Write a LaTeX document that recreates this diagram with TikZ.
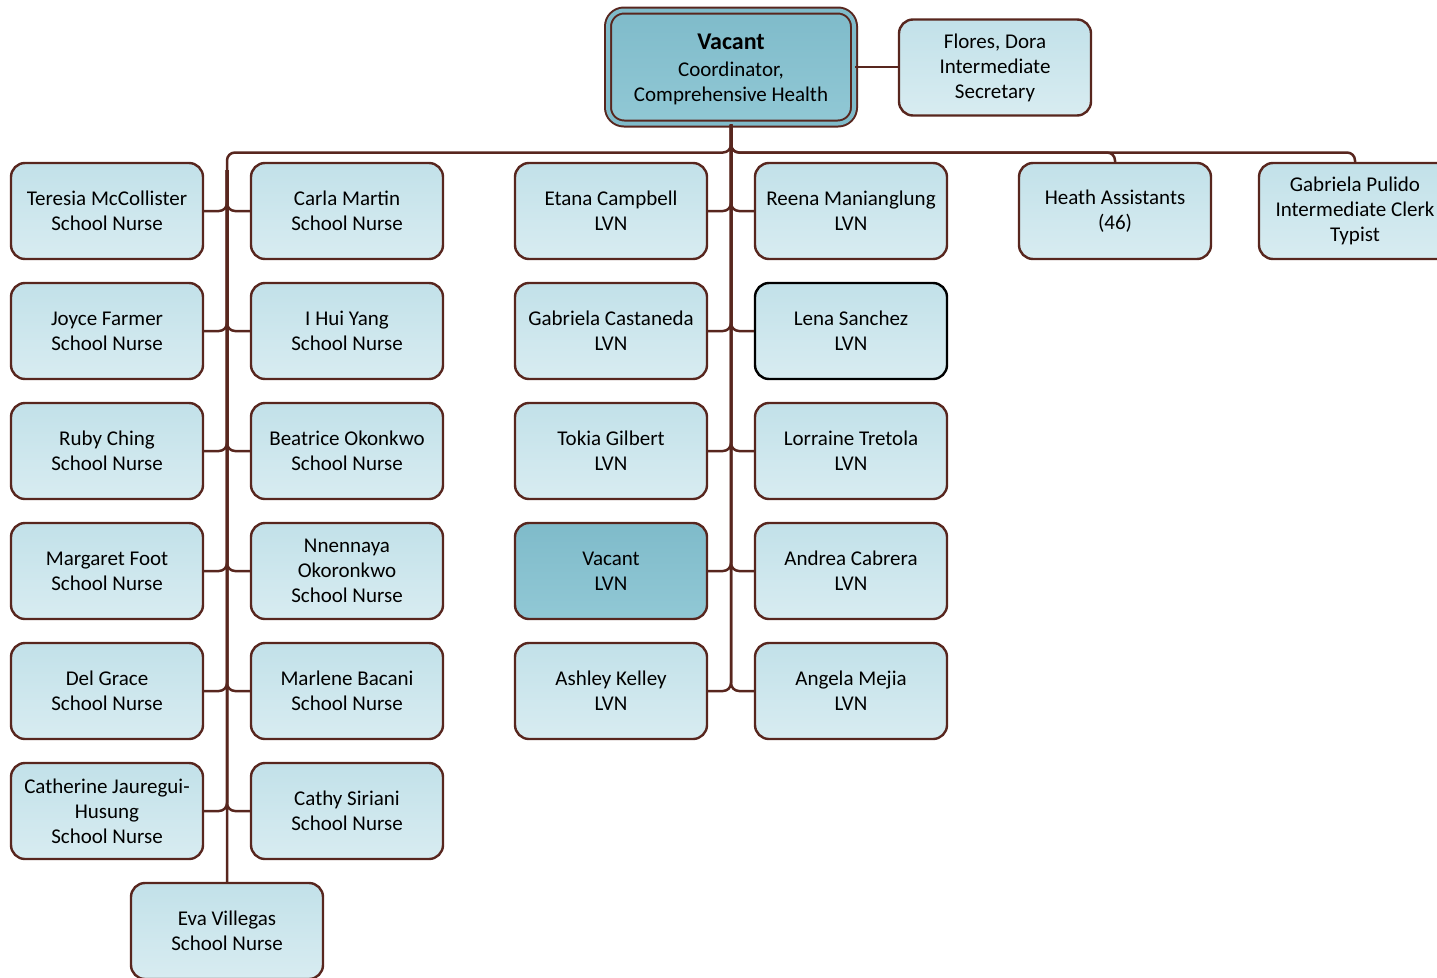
\documentclass[tikz,border=0pt]{standalone}
\usepackage{fontspec}
\setmainfont{Carlito}
\definecolor{linebrown}{RGB}{88,38,30}
\definecolor{boxlight}{RGB}{194,225,233}
\definecolor{boxpale}{RGB}{216,236,241}
\definecolor{boxdark}{RGB}{127,187,202}
\definecolor{boxdarkpale}{RGB}{145,200,213}
\tikzset{
  staff/.style={draw=linebrown, line width=2.4pt, rounded corners=14pt,
    minimum width=192pt, minimum height=96pt, inner sep=0pt, align=center,
    top color=boxlight, bottom color=boxpale,
    font=\fontsize{21}{25}\selectfont},
  vacancy/.style={staff, top color=boxdark, bottom color=boxdarkpale},
  link/.style={draw=linebrown, line width=2.5pt, rounded corners=8pt},
}
\begin{document}
\begin{tikzpicture}[x=1pt,y=-1pt]
      \clip (0,0) rectangle (1437,977);
      \path
        (731,67) node[vacancy, minimum width=246pt, minimum height=113pt,
          rounded corners=16pt, line width=2pt, double=boxdark, double distance=4pt] (director)
          {{\fontsize{24}{28}\selectfont\bfseries\rule{0pt}{20pt}Vacant}\\[2pt]Coordinator,\\Comprehensive Health}
        (995,67.5) node[staff] (secretary){Flores, Dora\\Intermediate\\Secretary}
        (107,211) node[staff] (nurse1){Teresia McCollister\\School Nurse}
        (347,211) node[staff] (nurse2){Carla Martin\\School Nurse}
        (107,331) node[staff] (nurse3){Joyce Farmer\\School Nurse}
        (347,331) node[staff] (nurse4){I Hui Yang\\School Nurse}
        (107,451) node[staff] (nurse5){Ruby Ching\\School Nurse}
        (347,451) node[staff] (nurse6){Beatrice Okonkwo\\School Nurse}
        (107,571) node[staff] (nurse7){Margaret Foot\\School Nurse}
        (347,571) node[staff] (nurse8){Nnennaya\\Okoronkwo\\School Nurse}
        (107,691) node[staff] (nurse9){Del Grace\\School Nurse}
        (347,691) node[staff] (nurse10){Marlene Bacani\\School Nurse}
        (107,811) node[staff] (nurse11){Catherine Jauregui-\\Husung\\School Nurse}
        (347,811) node[staff] (nurse12){Cathy Siriani\\School Nurse}
        (227,931) node[staff] (nurse13){Eva Villegas\\School Nurse}
        (611,211) node[staff] (lvn1){Etana Campbell\\LVN}
        (851,211) node[staff] (lvn2){Reena Manianglung\\LVN}
        (611,331) node[staff] (lvn3){Gabriela Castaneda\\LVN}
        (851,331) node[staff, draw=black] (lvn4){Lena Sanchez\\LVN}
        (611,451) node[staff] (lvn5){Tokia Gilbert\\LVN}
        (851,451) node[staff] (lvn6){Lorraine Tretola\\LVN}
        (611,571) node[vacancy] (lvn7){Vacant\\LVN}
        (851,571) node[staff] (lvn8){Andrea Cabrera\\LVN}
        (611,691) node[staff] (lvn9){Ashley Kelley\\LVN}
        (851,691) node[staff] (lvn10){Angela Mejia\\LVN}
        (1115,211) node[staff] (assistants){Heath Assistants\\(46)}
        (1355,211) node[staff] (clerk){Gabriela Pulido\\Intermediate Clerk\\Typist};
      \coordinate (spine) at (227,170);
      \begin{scope}[link]
        \draw (director.east) -- (director.east -| secretary.west);
        \draw (director.south) -- ++(0,28) -| (nurse13.north);
        \draw (director.south) -- ++(0,28) -| (assistants.north);
        \draw (director.south) -- ++(0,28) -| (clerk.north);
        \draw (nurse1.east) -| (spine);
        \draw (nurse2.west) -| (spine);
        \draw (nurse3.east) -| (spine);
        \draw (nurse4.west) -| (spine);
        \draw (nurse5.east) -| (spine);
        \draw (nurse6.west) -| (spine);
        \draw (nurse7.east) -| (spine);
        \draw (nurse8.west) -| (spine);
        \draw (nurse9.east) -| (spine);
        \draw (nurse10.west) -| (spine);
        \draw (nurse11.east) -| (spine);
        \draw (nurse12.west) -| (spine);
        \draw (lvn1.east) -| (director.south);
        \draw (lvn2.west) -| (director.south);
        \draw (lvn3.east) -| (director.south);
        \draw (lvn4.west) -| (director.south);
        \draw (lvn5.east) -| (director.south);
        \draw (lvn6.west) -| (director.south);
        \draw (lvn7.east) -| (director.south);
        \draw (lvn8.west) -| (director.south);
        \draw (lvn9.east) -| (director.south);
        \draw (lvn10.west) -| (director.south);
      \end{scope}
    \end{tikzpicture}
\end{document}
